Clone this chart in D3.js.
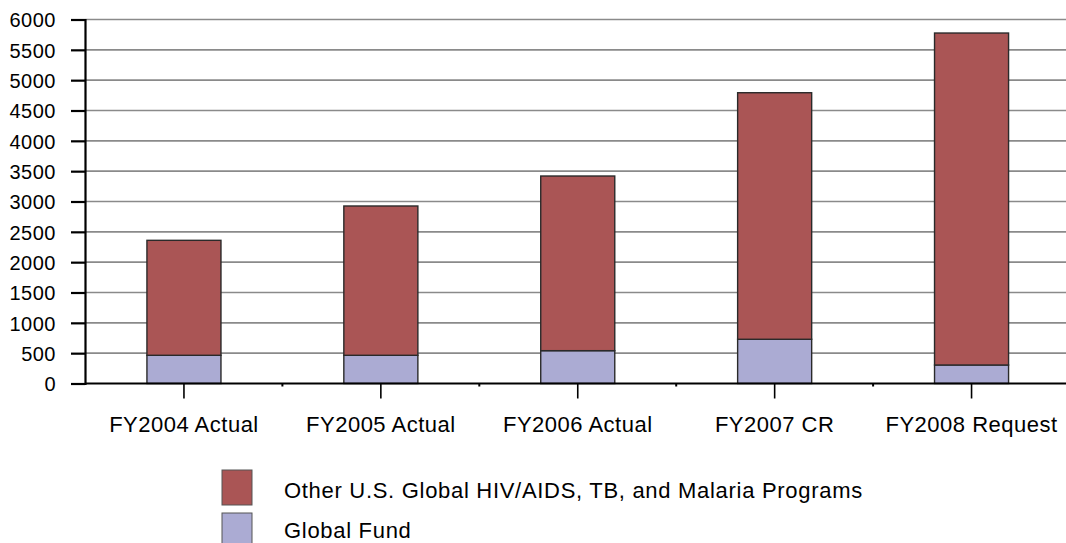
<!DOCTYPE html>
<html><head><meta charset="utf-8">
<script src="https://cdn.jsdelivr.net/npm/d3@7"></script>
<style>
body{margin:0;background:#fff;}
text{font-family:"Liberation Sans",Arial,sans-serif;fill:#000;}
</style></head>
<body><svg id="c" width="1066" height="543"></svg>
<script>
const categories = ["FY2004 Actual","FY2005 Actual","FY2006 Actual","FY2007 CR","FY2008 Request"];
const globalFund = [465, 465, 541, 729, 305];
const otherPrograms = [1895, 2461, 2879, 4064, 5472];
const yTicks = [0,500,1000,1500,2000,2500,3000,3500,4000,4500,5000,5500,6000];
const seriesNames = ["Other U.S. Global HIV/AIDS, TB, and Malaria Programs","Global Fund"];
const colors = {other:"#AA5555", gf:"#ABABD3"};

const svg = d3.select("#c");
const y = d3.scaleLinear().domain([0,6000]).range([383.5,19.5]);
const x = d3.scaleBand().domain(categories).range([85.5,1070]).paddingInner(0.624).paddingOuter(0.312);

// gridlines
svg.append("g").selectAll("line").data(yTicks.filter(d=>d>0)).join("line")
  .attr("x1",85).attr("x2",1066).attr("y1",d=>y(d)).attr("y2",d=>y(d))
  .attr("stroke","#8a8a8a").attr("stroke-width",1.6);

// bars
const rows = categories.map((c,i)=>({cat:c, gf:globalFund[i], other:otherPrograms[i]}));
const stack = d3.stack().keys(["gf","other"])(rows);
svg.append("g").selectAll("g").data(stack).join("g")
  .attr("fill",d=>colors[d.key])
  .selectAll("rect").data(d=>d).join("rect")
  .attr("x",d=>x(d.data.cat)).attr("width",x.bandwidth())
  .attr("y",d=>y(d[1])).attr("height",d=>y(d[0])-y(d[1]))
  .attr("stroke","#2a2a2a").attr("stroke-width",1.4);

// y axis
const ya = svg.append("g").attr("transform","translate(85,0)")
  .call(d3.axisLeft(y).tickValues(yTicks).tickSize(14).tickPadding(15).tickFormat(d3.format("d")));
ya.select(".domain").attr("stroke","#000").attr("stroke-width",2.2);
ya.selectAll(".tick line").attr("stroke","#000").attr("stroke-width",2.2);
ya.selectAll(".tick text").style("font-size","20px").style("letter-spacing","0.5px")
  .style("font-family","'Liberation Sans',Arial,sans-serif").attr("fill","#000").attr("dy","0.36em");

// x axis
svg.append("line").attr("x1",85).attr("x2",1066).attr("y1",y(0)).attr("y2",y(0))
  .attr("stroke","#000").attr("stroke-width",2.2);
const xa = svg.append("g").attr("transform",`translate(0,${y(0)})`)
  .call(d3.axisBottom(x).tickSize(15).tickPadding(18));
xa.select(".domain").remove();
xa.selectAll(".tick line").attr("stroke","#000").attr("stroke-width",1.6);
xa.selectAll(".tick text").style("font-size","22px").style("letter-spacing","0.5px")
  .style("font-family","'Liberation Sans',Arial,sans-serif").attr("fill","#000");
// minor marks between categories
svg.append("g").selectAll("line").data(categories.slice(1)).join("line")
  .attr("x1",d=>x(d)-x.step()*x.paddingInner()/2).attr("x2",d=>x(d)-x.step()*x.paddingInner()/2)
  .attr("y1",y(0)).attr("y2",y(0)+3).attr("stroke","#000").attr("stroke-width",2);

// legend
const leg = svg.append("g");
const legItems = [{name:seriesNames[0],c:colors.other},{name:seriesNames[1],c:colors.gf}];
leg.selectAll("rect").data(legItems).join("rect")
  .attr("x",222).attr("y",(d,i)=>470+i*43).attr("width",30).attr("height",35)
  .attr("fill",d=>d.c).attr("stroke","#555").attr("stroke-width",1);
leg.selectAll("text").data(legItems).join("text")
  .attr("x",284).attr("y",(d,i)=>498+i*40).text(d=>d.name)
  .style("font-size","22px").style("letter-spacing","0.7px");
</script></body></html>
